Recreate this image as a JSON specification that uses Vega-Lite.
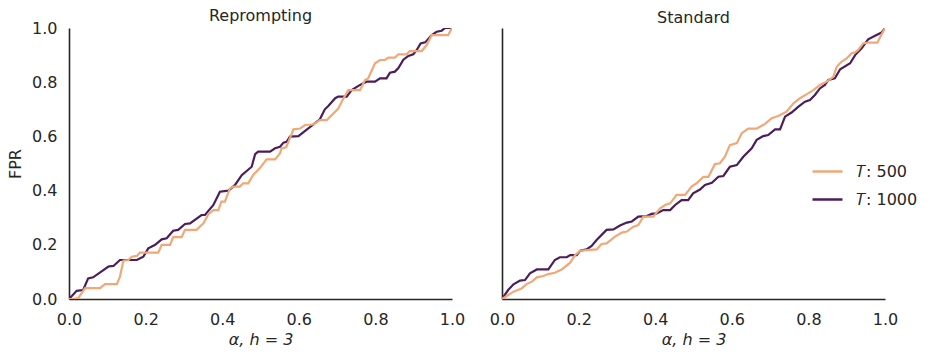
{
  "$schema": "https://vega.github.io/schema/vega-lite/v6.json",
  "padding": {"left": 7, "top": 8, "right": 5, "bottom": 3},
  "config": {
    "font": "DejaVu Sans",
    "view": {"stroke": null},
    "axis": {"grid": false, "ticks": false, "labelFlush": false, "domainColor": "#262626", "domainWidth": 1.6, "labelColor": "#262626", "labelFont": "DejaVu Sans", "labelFontSize": 16, "labelPadding": 12, "titleColor": "#262626", "titleFont": "DejaVu Sans", "titleFontSize": 16, "titleFontWeight": "normal"},
    "axisX": {"titlePadding": 4},
    "title": {"fontSize": 16, "fontWeight": "normal", "color": "#262626", "offset": -4, "font": "DejaVu Sans"},
    "legend": {"labelFont": "DejaVu Sans"},
    "concat": {"spacing": 24}
  },
  "data": {"values": [
    {"panel":"Reprompting","T":1000,"alpha":0,"fpr":0},{"panel":"Reprompting","T":1000,"alpha":0.02,"fpr":0.03},{"panel":"Reprompting","T":1000,"alpha":0.037,"fpr":0.033},{"panel":"Reprompting","T":1000,"alpha":0.05,"fpr":0.076},{"panel":"Reprompting","T":1000,"alpha":0.063,"fpr":0.08},{"panel":"Reprompting","T":1000,"alpha":0.103,"fpr":0.12},{"panel":"Reprompting","T":1000,"alpha":0.116,"fpr":0.122},{"panel":"Reprompting","T":1000,"alpha":0.133,"fpr":0.144},{"panel":"Reprompting","T":1000,"alpha":0.177,"fpr":0.144},{"panel":"Reprompting","T":1000,"alpha":0.194,"fpr":0.156},{"panel":"Reprompting","T":1000,"alpha":0.207,"fpr":0.187},{"panel":"Reprompting","T":1000,"alpha":0.225,"fpr":0.2},{"panel":"Reprompting","T":1000,"alpha":0.242,"fpr":0.22},{"panel":"Reprompting","T":1000,"alpha":0.255,"fpr":0.224},{"panel":"Reprompting","T":1000,"alpha":0.272,"fpr":0.252},{"panel":"Reprompting","T":1000,"alpha":0.285,"fpr":0.255},{"panel":"Reprompting","T":1000,"alpha":0.303,"fpr":0.277},{"panel":"Reprompting","T":1000,"alpha":0.316,"fpr":0.279},{"panel":"Reprompting","T":1000,"alpha":0.346,"fpr":0.31},{"panel":"Reprompting","T":1000,"alpha":0.355,"fpr":0.31},{"panel":"Reprompting","T":1000,"alpha":0.377,"fpr":0.347},{"panel":"Reprompting","T":1000,"alpha":0.394,"fpr":0.396},{"panel":"Reprompting","T":1000,"alpha":0.416,"fpr":0.4},{"panel":"Reprompting","T":1000,"alpha":0.433,"fpr":0.42},{"panel":"Reprompting","T":1000,"alpha":0.451,"fpr":0.457},{"panel":"Reprompting","T":1000,"alpha":0.477,"fpr":0.488},{"panel":"Reprompting","T":1000,"alpha":0.486,"fpr":0.535},{"panel":"Reprompting","T":1000,"alpha":0.494,"fpr":0.544},{"panel":"Reprompting","T":1000,"alpha":0.525,"fpr":0.544},{"panel":"Reprompting","T":1000,"alpha":0.538,"fpr":0.556},{"panel":"Reprompting","T":1000,"alpha":0.551,"fpr":0.562},{"panel":"Reprompting","T":1000,"alpha":0.56,"fpr":0.577},{"panel":"Reprompting","T":1000,"alpha":0.568,"fpr":0.58},{"panel":"Reprompting","T":1000,"alpha":0.577,"fpr":0.599},{"panel":"Reprompting","T":1000,"alpha":0.599,"fpr":0.601},{"panel":"Reprompting","T":1000,"alpha":0.655,"fpr":0.663},{"panel":"Reprompting","T":1000,"alpha":0.668,"fpr":0.7},{"panel":"Reprompting","T":1000,"alpha":0.677,"fpr":0.712},{"panel":"Reprompting","T":1000,"alpha":0.695,"fpr":0.741},{"panel":"Reprompting","T":1000,"alpha":0.703,"fpr":0.747},{"panel":"Reprompting","T":1000,"alpha":0.725,"fpr":0.747},{"panel":"Reprompting","T":1000,"alpha":0.738,"fpr":0.771},{"panel":"Reprompting","T":1000,"alpha":0.76,"fpr":0.79},{"panel":"Reprompting","T":1000,"alpha":0.777,"fpr":0.802},{"panel":"Reprompting","T":1000,"alpha":0.799,"fpr":0.802},{"panel":"Reprompting","T":1000,"alpha":0.812,"fpr":0.814},{"panel":"Reprompting","T":1000,"alpha":0.829,"fpr":0.814},{"panel":"Reprompting","T":1000,"alpha":0.838,"fpr":0.835},{"panel":"Reprompting","T":1000,"alpha":0.851,"fpr":0.839},{"panel":"Reprompting","T":1000,"alpha":0.86,"fpr":0.852},{"panel":"Reprompting","T":1000,"alpha":0.873,"fpr":0.883},{"panel":"Reprompting","T":1000,"alpha":0.886,"fpr":0.897},{"panel":"Reprompting","T":1000,"alpha":0.899,"fpr":0.903},{"panel":"Reprompting","T":1000,"alpha":0.908,"fpr":0.919},{"panel":"Reprompting","T":1000,"alpha":0.918,"fpr":0.943},{"panel":"Reprompting","T":1000,"alpha":0.93,"fpr":0.947},{"panel":"Reprompting","T":1000,"alpha":0.947,"fpr":0.974},{"panel":"Reprompting","T":1000,"alpha":0.96,"fpr":0.986},{"panel":"Reprompting","T":1000,"alpha":0.973,"fpr":0.99},{"panel":"Reprompting","T":1000,"alpha":0.982,"fpr":1.0},{"panel":"Reprompting","T":1000,"alpha":1.0,"fpr":1.0},
    {"panel":"Reprompting","T":500,"alpha":0,"fpr":0},{"panel":"Reprompting","T":500,"alpha":0.011,"fpr":0},{"panel":"Reprompting","T":500,"alpha":0.024,"fpr":0.003},{"panel":"Reprompting","T":500,"alpha":0.042,"fpr":0.04},{"panel":"Reprompting","T":500,"alpha":0.081,"fpr":0.04},{"panel":"Reprompting","T":500,"alpha":0.094,"fpr":0.055},{"panel":"Reprompting","T":500,"alpha":0.125,"fpr":0.055},{"panel":"Reprompting","T":500,"alpha":0.133,"fpr":0.082},{"panel":"Reprompting","T":500,"alpha":0.142,"fpr":0.141},{"panel":"Reprompting","T":500,"alpha":0.155,"fpr":0.144},{"panel":"Reprompting","T":500,"alpha":0.164,"fpr":0.156},{"panel":"Reprompting","T":500,"alpha":0.177,"fpr":0.159},{"panel":"Reprompting","T":500,"alpha":0.185,"fpr":0.171},{"panel":"Reprompting","T":500,"alpha":0.233,"fpr":0.171},{"panel":"Reprompting","T":500,"alpha":0.242,"fpr":0.2},{"panel":"Reprompting","T":500,"alpha":0.264,"fpr":0.2},{"panel":"Reprompting","T":500,"alpha":0.272,"fpr":0.228},{"panel":"Reprompting","T":500,"alpha":0.294,"fpr":0.228},{"panel":"Reprompting","T":500,"alpha":0.303,"fpr":0.255},{"panel":"Reprompting","T":500,"alpha":0.333,"fpr":0.255},{"panel":"Reprompting","T":500,"alpha":0.351,"fpr":0.279},{"panel":"Reprompting","T":500,"alpha":0.364,"fpr":0.313},{"panel":"Reprompting","T":500,"alpha":0.377,"fpr":0.328},{"panel":"Reprompting","T":500,"alpha":0.39,"fpr":0.328},{"panel":"Reprompting","T":500,"alpha":0.398,"fpr":0.359},{"panel":"Reprompting","T":500,"alpha":0.407,"fpr":0.359},{"panel":"Reprompting","T":500,"alpha":0.42,"fpr":0.408},{"panel":"Reprompting","T":500,"alpha":0.429,"fpr":0.415},{"panel":"Reprompting","T":500,"alpha":0.446,"fpr":0.415},{"panel":"Reprompting","T":500,"alpha":0.455,"fpr":0.427},{"panel":"Reprompting","T":500,"alpha":0.468,"fpr":0.427},{"panel":"Reprompting","T":500,"alpha":0.481,"fpr":0.458},{"panel":"Reprompting","T":500,"alpha":0.499,"fpr":0.484},{"panel":"Reprompting","T":500,"alpha":0.516,"fpr":0.515},{"panel":"Reprompting","T":500,"alpha":0.538,"fpr":0.515},{"panel":"Reprompting","T":500,"alpha":0.551,"fpr":0.538},{"panel":"Reprompting","T":500,"alpha":0.555,"fpr":0.556},{"panel":"Reprompting","T":500,"alpha":0.567,"fpr":0.56},{"panel":"Reprompting","T":500,"alpha":0.575,"fpr":0.587},{"panel":"Reprompting","T":500,"alpha":0.586,"fpr":0.626},{"panel":"Reprompting","T":500,"alpha":0.603,"fpr":0.629},{"panel":"Reprompting","T":500,"alpha":0.616,"fpr":0.642},{"panel":"Reprompting","T":500,"alpha":0.638,"fpr":0.644},{"panel":"Reprompting","T":500,"alpha":0.655,"fpr":0.66},{"panel":"Reprompting","T":500,"alpha":0.673,"fpr":0.66},{"panel":"Reprompting","T":500,"alpha":0.703,"fpr":0.703},{"panel":"Reprompting","T":500,"alpha":0.712,"fpr":0.728},{"panel":"Reprompting","T":500,"alpha":0.729,"fpr":0.771},{"panel":"Reprompting","T":500,"alpha":0.76,"fpr":0.771},{"panel":"Reprompting","T":500,"alpha":0.773,"fpr":0.808},{"panel":"Reprompting","T":500,"alpha":0.781,"fpr":0.814},{"panel":"Reprompting","T":500,"alpha":0.799,"fpr":0.87},{"panel":"Reprompting","T":500,"alpha":0.812,"fpr":0.882},{"panel":"Reprompting","T":500,"alpha":0.825,"fpr":0.882},{"panel":"Reprompting","T":500,"alpha":0.834,"fpr":0.891},{"panel":"Reprompting","T":500,"alpha":0.851,"fpr":0.891},{"panel":"Reprompting","T":500,"alpha":0.86,"fpr":0.903},{"panel":"Reprompting","T":500,"alpha":0.881,"fpr":0.903},{"panel":"Reprompting","T":500,"alpha":0.89,"fpr":0.915},{"panel":"Reprompting","T":500,"alpha":0.921,"fpr":0.915},{"panel":"Reprompting","T":500,"alpha":0.934,"fpr":0.937},{"panel":"Reprompting","T":500,"alpha":0.947,"fpr":0.974},{"panel":"Reprompting","T":500,"alpha":0.99,"fpr":0.974},{"panel":"Reprompting","T":500,"alpha":1.0,"fpr":1.0},
    {"panel":"Standard","T":1000,"alpha":0,"fpr":0},{"panel":"Standard","T":1000,"alpha":0.016,"fpr":0.033},{"panel":"Standard","T":1000,"alpha":0.03,"fpr":0.054},{"panel":"Standard","T":1000,"alpha":0.047,"fpr":0.068},{"panel":"Standard","T":1000,"alpha":0.06,"fpr":0.07},{"panel":"Standard","T":1000,"alpha":0.073,"fpr":0.095},{"panel":"Standard","T":1000,"alpha":0.091,"fpr":0.109},{"panel":"Standard","T":1000,"alpha":0.121,"fpr":0.109},{"panel":"Standard","T":1000,"alpha":0.138,"fpr":0.144},{"panel":"Standard","T":1000,"alpha":0.151,"fpr":0.154},{"panel":"Standard","T":1000,"alpha":0.169,"fpr":0.154},{"panel":"Standard","T":1000,"alpha":0.178,"fpr":0.162},{"panel":"Standard","T":1000,"alpha":0.195,"fpr":0.162},{"panel":"Standard","T":1000,"alpha":0.204,"fpr":0.178},{"panel":"Standard","T":1000,"alpha":0.221,"fpr":0.183},{"panel":"Standard","T":1000,"alpha":0.234,"fpr":0.196},{"panel":"Standard","T":1000,"alpha":0.247,"fpr":0.218},{"panel":"Standard","T":1000,"alpha":0.273,"fpr":0.255},{"panel":"Standard","T":1000,"alpha":0.291,"fpr":0.257},{"panel":"Standard","T":1000,"alpha":0.308,"fpr":0.271},{"panel":"Standard","T":1000,"alpha":0.326,"fpr":0.282},{"panel":"Standard","T":1000,"alpha":0.339,"fpr":0.286},{"panel":"Standard","T":1000,"alpha":0.356,"fpr":0.304},{"panel":"Standard","T":1000,"alpha":0.378,"fpr":0.306},{"panel":"Standard","T":1000,"alpha":0.391,"fpr":0.314},{"panel":"Standard","T":1000,"alpha":0.404,"fpr":0.316},{"panel":"Standard","T":1000,"alpha":0.421,"fpr":0.328},{"panel":"Standard","T":1000,"alpha":0.439,"fpr":0.328},{"panel":"Standard","T":1000,"alpha":0.452,"fpr":0.347},{"panel":"Standard","T":1000,"alpha":0.469,"fpr":0.365},{"panel":"Standard","T":1000,"alpha":0.486,"fpr":0.365},{"panel":"Standard","T":1000,"alpha":0.499,"fpr":0.39},{"panel":"Standard","T":1000,"alpha":0.517,"fpr":0.404},{"panel":"Standard","T":1000,"alpha":0.53,"fpr":0.421},{"panel":"Standard","T":1000,"alpha":0.548,"fpr":0.429},{"panel":"Standard","T":1000,"alpha":0.565,"fpr":0.451},{"panel":"Standard","T":1000,"alpha":0.578,"fpr":0.454},{"panel":"Standard","T":1000,"alpha":0.595,"fpr":0.488},{"panel":"Standard","T":1000,"alpha":0.613,"fpr":0.494},{"panel":"Standard","T":1000,"alpha":0.63,"fpr":0.525},{"panel":"Standard","T":1000,"alpha":0.652,"fpr":0.556},{"panel":"Standard","T":1000,"alpha":0.665,"fpr":0.587},{"panel":"Standard","T":1000,"alpha":0.682,"fpr":0.601},{"panel":"Standard","T":1000,"alpha":0.695,"fpr":0.605},{"panel":"Standard","T":1000,"alpha":0.713,"fpr":0.626},{"panel":"Standard","T":1000,"alpha":0.726,"fpr":0.626},{"panel":"Standard","T":1000,"alpha":0.739,"fpr":0.673},{"panel":"Standard","T":1000,"alpha":0.756,"fpr":0.688},{"panel":"Standard","T":1000,"alpha":0.774,"fpr":0.71},{"panel":"Standard","T":1000,"alpha":0.791,"fpr":0.728},{"panel":"Standard","T":1000,"alpha":0.804,"fpr":0.734},{"panel":"Standard","T":1000,"alpha":0.817,"fpr":0.753},{"panel":"Standard","T":1000,"alpha":0.83,"fpr":0.777},{"panel":"Standard","T":1000,"alpha":0.843,"fpr":0.79},{"panel":"Standard","T":1000,"alpha":0.852,"fpr":0.808},{"panel":"Standard","T":1000,"alpha":0.869,"fpr":0.814},{"panel":"Standard","T":1000,"alpha":0.883,"fpr":0.848},{"panel":"Standard","T":1000,"alpha":0.909,"fpr":0.87},{"panel":"Standard","T":1000,"alpha":0.922,"fpr":0.9},{"panel":"Standard","T":1000,"alpha":0.939,"fpr":0.925},{"panel":"Standard","T":1000,"alpha":0.956,"fpr":0.958},{"panel":"Standard","T":1000,"alpha":0.978,"fpr":0.974},{"panel":"Standard","T":1000,"alpha":0.991,"fpr":0.983},{"panel":"Standard","T":1000,"alpha":1.0,"fpr":1.0},
    {"panel":"Standard","T":500,"alpha":0,"fpr":0},{"panel":"Standard","T":500,"alpha":0.03,"fpr":0.027},{"panel":"Standard","T":500,"alpha":0.051,"fpr":0.039},{"panel":"Standard","T":500,"alpha":0.064,"fpr":0.055},{"panel":"Standard","T":500,"alpha":0.078,"fpr":0.064},{"panel":"Standard","T":500,"alpha":0.091,"fpr":0.08},{"panel":"Standard","T":500,"alpha":0.108,"fpr":0.085},{"panel":"Standard","T":500,"alpha":0.121,"fpr":0.092},{"panel":"Standard","T":500,"alpha":0.138,"fpr":0.097},{"panel":"Standard","T":500,"alpha":0.156,"fpr":0.109},{"panel":"Standard","T":500,"alpha":0.178,"fpr":0.134},{"panel":"Standard","T":500,"alpha":0.191,"fpr":0.162},{"panel":"Standard","T":500,"alpha":0.204,"fpr":0.178},{"panel":"Standard","T":500,"alpha":0.23,"fpr":0.181},{"panel":"Standard","T":500,"alpha":0.247,"fpr":0.183},{"panel":"Standard","T":500,"alpha":0.26,"fpr":0.203},{"panel":"Standard","T":500,"alpha":0.273,"fpr":0.205},{"panel":"Standard","T":500,"alpha":0.295,"fpr":0.23},{"panel":"Standard","T":500,"alpha":0.313,"fpr":0.245},{"panel":"Standard","T":500,"alpha":0.326,"fpr":0.249},{"panel":"Standard","T":500,"alpha":0.343,"fpr":0.267},{"panel":"Standard","T":500,"alpha":0.356,"fpr":0.273},{"panel":"Standard","T":500,"alpha":0.369,"fpr":0.304},{"panel":"Standard","T":500,"alpha":0.395,"fpr":0.304},{"panel":"Standard","T":500,"alpha":0.413,"fpr":0.335},{"panel":"Standard","T":500,"alpha":0.426,"fpr":0.347},{"panel":"Standard","T":500,"alpha":0.439,"fpr":0.353},{"panel":"Standard","T":500,"alpha":0.456,"fpr":0.384},{"panel":"Standard","T":500,"alpha":0.478,"fpr":0.384},{"panel":"Standard","T":500,"alpha":0.495,"fpr":0.415},{"panel":"Standard","T":500,"alpha":0.508,"fpr":0.427},{"panel":"Standard","T":500,"alpha":0.526,"fpr":0.451},{"panel":"Standard","T":500,"alpha":0.539,"fpr":0.451},{"panel":"Standard","T":500,"alpha":0.556,"fpr":0.498},{"panel":"Standard","T":500,"alpha":0.569,"fpr":0.501},{"panel":"Standard","T":500,"alpha":0.582,"fpr":0.525},{"panel":"Standard","T":500,"alpha":0.595,"fpr":0.568},{"panel":"Standard","T":500,"alpha":0.613,"fpr":0.575},{"panel":"Standard","T":500,"alpha":0.626,"fpr":0.612},{"panel":"Standard","T":500,"alpha":0.643,"fpr":0.629},{"panel":"Standard","T":500,"alpha":0.665,"fpr":0.629},{"panel":"Standard","T":500,"alpha":0.687,"fpr":0.646},{"panel":"Standard","T":500,"alpha":0.704,"fpr":0.667},{"panel":"Standard","T":500,"alpha":0.721,"fpr":0.675},{"panel":"Standard","T":500,"alpha":0.743,"fpr":0.691},{"panel":"Standard","T":500,"alpha":0.761,"fpr":0.722},{"panel":"Standard","T":500,"alpha":0.778,"fpr":0.741},{"panel":"Standard","T":500,"alpha":0.796,"fpr":0.756},{"panel":"Standard","T":500,"alpha":0.813,"fpr":0.771},{"panel":"Standard","T":500,"alpha":0.83,"fpr":0.79},{"panel":"Standard","T":500,"alpha":0.848,"fpr":0.802},{"panel":"Standard","T":500,"alpha":0.865,"fpr":0.82},{"panel":"Standard","T":500,"alpha":0.874,"fpr":0.857},{"panel":"Standard","T":500,"alpha":0.887,"fpr":0.876},{"panel":"Standard","T":500,"alpha":0.9,"fpr":0.888},{"panel":"Standard","T":500,"alpha":0.913,"fpr":0.907},{"panel":"Standard","T":500,"alpha":0.922,"fpr":0.91},{"panel":"Standard","T":500,"alpha":0.93,"fpr":0.919},{"panel":"Standard","T":500,"alpha":0.943,"fpr":0.943},{"panel":"Standard","T":500,"alpha":0.956,"fpr":0.946},{"panel":"Standard","T":500,"alpha":0.98,"fpr":0.946},{"panel":"Standard","T":500,"alpha":1.0,"fpr":1.0}
  ]},
  "hconcat": [
    {
      "title": {"text": "Reprompting"},
      "width": 383, "height": 271,
      "transform": [{"filter": "datum.panel === 'Reprompting'"}],
      "mark": {"type": "line", "strokeWidth": 2.2, "clip": true},
      "encoding": {
        "x": {"field": "alpha", "type": "quantitative", "scale": {"domain": [0, 1], "nice": false}, "axis": {"values": [0, 0.2, 0.4, 0.6, 0.8, 1.0], "format": ".1f", "title": "α, h = 3", "titleFontStyle": "italic"}},
        "y": {"field": "fpr", "type": "quantitative", "scale": {"domain": [0, 1], "nice": false}, "axis": {"values": [0, 0.2, 0.4, 0.6, 0.8, 1.0], "format": ".1f", "title": "FPR", "titlePadding": 8}},
        "color": {"field": "T", "type": "nominal", "scale": {"domain": [500, 1000], "range": ["#f0a877", "#4b1d5b"]}, "legend": {"title": null, "orient": "none", "legendX": 742, "legendY": 127, "symbolType": "stroke", "symbolSize": 900, "symbolStrokeWidth": 2.5, "labelFontSize": 16, "labelColor": "#262626", "labelOffset": 12, "rowPadding": 3, "labelExpr": "'𝑇: ' + datum.label"}},
        "order": {"field": "alpha", "type": "quantitative"}
      }
    },
    {
      "title": {"text": "Standard", "dy": -6},
      "width": 383, "height": 271,
      "transform": [{"filter": "datum.panel === 'Standard'"}],
      "mark": {"type": "line", "strokeWidth": 2.2, "clip": true},
      "encoding": {
        "x": {"field": "alpha", "type": "quantitative", "scale": {"domain": [0, 1], "nice": false}, "axis": {"values": [0, 0.2, 0.4, 0.6, 0.8, 1.0], "format": ".1f", "title": "α, h = 3", "titleFontStyle": "italic"}},
        "y": {"field": "fpr", "type": "quantitative", "scale": {"domain": [0, 1], "nice": false}, "axis": {"labels": false, "title": null}},
        "color": {"field": "T", "type": "nominal", "scale": {"domain": [500, 1000], "range": ["#f0a877", "#4b1d5b"]}, "legend": {"title": null, "orient": "none", "legendX": 742, "legendY": 127, "symbolType": "stroke", "symbolSize": 900, "symbolStrokeWidth": 2.5, "labelFontSize": 16, "labelColor": "#262626", "labelOffset": 12, "rowPadding": 3, "labelExpr": "'𝑇: ' + datum.label"}},
        "order": {"field": "alpha", "type": "quantitative"}
      }
    }
  ]
}
